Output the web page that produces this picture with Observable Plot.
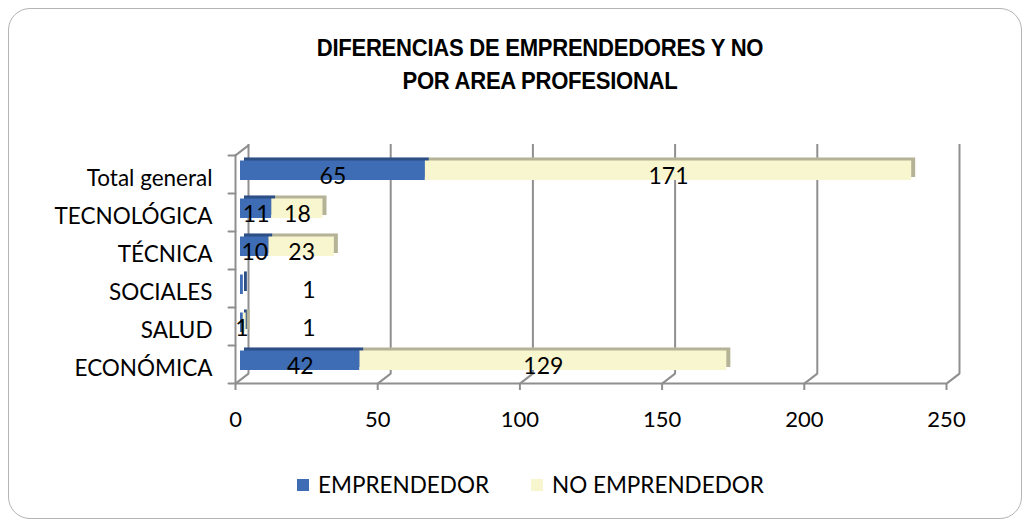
<!DOCTYPE html>
<html>
<head>
<meta charset="utf-8">
<script src="https://cdn.jsdelivr.net/npm/d3@7"></script>
<script src="https://cdn.jsdelivr.net/npm/@observablehq/plot@0.6"></script>
<style>
  html, body { margin: 0; padding: 0; background: #fff; }
  #wrap { position: relative; width: 1029px; height: 525px; overflow: hidden; font-family: Lato, "Open Sans", sans-serif; }
  #frame { position: absolute; left: 8px; top: 8px; width: 1014px; height: 511px; border: 1.5px solid #b4b4b4; border-radius: 22px; box-sizing: border-box; }
  #chart { position: absolute; left: 0; top: 0; }
  #title { position: absolute; left: 0; width: 1080px; top: 31px; text-align: center; font-family: "Liberation Sans Narrow", "Liberation Sans", sans-serif; font-weight: bold; font-size: 24px; line-height: 33px; color: #000; transform: scaleX(0.92); transform-origin: 540px 0; letter-spacing: -0.3px; }
  #legend { position: absolute; top: 471px; left: 297px; font-size: 22.5px; color: #000; display: flex; align-items: center; }
  .sw { display: inline-block; width: 12px; height: 12px; margin-right: 9px; }
</style>
</head>
<body>
<div id="wrap">
  <div id="frame"></div>
  <div id="chart"></div>
  <div id="title">DIFERENCIAS DE EMPRENDEDORES Y NO<br>POR AREA PROFESIONAL</div>
  <div id="legend"></div>
</div>
<script>
// ---- data ----
const categories = ["Total general", "TECNOLÓGICA", "TÉCNICA", "SOCIALES", "SALUD", "ECONÓMICA"];
const emprendedor = [65, 11, 10, 1, 1, 42];
const noEmprendedor = [171, 18, 23, 0, 1, 129];
const series = ["EMPRENDEDOR", "NO EMPRENDEDOR"];
const seriesColors = ["#3e6db5", "#f8f6cf"];
const xTicks = [0, 50, 100, 150, 200, 250];
// labels Excel moved away from tiny segments
const movedLabels = [["SOCIALES", "EMPRENDEDOR"], ["SALUD", "NO EMPRENDEDOR"]];

const rows = [];
categories.forEach((c, i) => {
  rows.push({cat: c, serie: series[0], value: emprendedor[i]});
  rows.push({cat: c, serie: series[1], value: noEmprendedor[i]});
});
const isMoved = d => movedLabels.some(([c, s]) => c === d.cat && s === d.serie);

const W = 1029, H = 525, mT = 154, mB = 142, mL = 235, mR = 83;
const bw = (H - mT - mB) / categories.length;
const gray = "#8f8f8f";
const line = {draw(ctx, l) { ctx.moveTo(0, 0); ctx.lineTo(0, -l); }};
const depth = Math.hypot(13, 10), depthAngle = Math.atan2(13, 10) * 180 / Math.PI;

const barOpts = {x: "value", y: "cat", insetTop: 9.5, insetBottom: 9};

const chart = Plot.plot({
  width: W, height: H,
  marginTop: mT, marginBottom: mB, marginLeft: mL, marginRight: mR,
  x: {domain: [0, 250], ticks: xTicks},
  y: {domain: categories, padding: 0},
  color: {domain: series, range: seriesColors},
  style: {fontFamily: "Lato, 'Open Sans', sans-serif", color: "#000", background: "transparent"},
  marks: [
    // back wall gridlines
    Plot.ruleX(xTicks, {dx: 13, dy: -10, stroke: gray, strokeWidth: 2}),
    // floor diagonals
    Plot.vector(xTicks, {x: d => d, y: () => categories[categories.length - 1], dy: bw / 2, length: depth, rotate: depthAngle, anchor: "start", shape: line, stroke: gray, strokeWidth: 2}),
    // top-left diagonal
    Plot.vector([0], {x: d => d, y: () => categories[0], dy: -bw / 2, length: depth, rotate: depthAngle, anchor: "start", shape: line, stroke: gray, strokeWidth: 2}),
    // front left wall and floor
    Plot.ruleX([0], {stroke: gray, strokeWidth: 2}),
    Plot.ruleY([categories[categories.length - 1]], {dy: bw / 2, x1: 0, x2: 250, stroke: gray, strokeWidth: 2}),
    // left boundary ticks
    Plot.vector(categories, {x: () => 0, y: d => d, dy: -bw / 2, length: 7, rotate: -90, anchor: "start", shape: line, stroke: gray, strokeWidth: 2}),
    Plot.vector([categories[categories.length - 1]], {x: () => 0, y: d => d, dy: bw / 2, length: 7, rotate: -90, anchor: "start", shape: line, stroke: gray, strokeWidth: 2}),
    // 3D depth faces
    Plot.barX(rows, Plot.stackX({...barOpts, fill: "serie", dx: 9, dy: -7})),
    Plot.barX(rows, Plot.stackX({...barOpts, fill: "#000", fillOpacity: 0.27, dx: 9, dy: -7})),
    // front faces
    Plot.barX(rows, Plot.stackX({...barOpts, fill: "serie", dx: 5, dy: -4})),
    // value labels
    Plot.text(rows, Plot.stackX({x: "value", y: "cat", text: d => d.value > 0 ? String(d.value) : "", filter: d => !isMoved(d), dx: 5, dy: 2, fontSize: 23, fill: "#000"})),
    Plot.text(rows, Plot.stackX({x: "value", y: "cat", text: d => d.value > 0 ? String(d.value) : "", filter: d => isMoved(d), dx: 72, dy: 2, fontSize: 23, fill: "#000"})),
    // axes
    Plot.axisX({ticks: xTicks, tickSize: 7, tickPadding: 21, fontSize: 22, stroke: gray, strokeWidth: 2, label: null}),
    Plot.axisY({tickSize: 0, tickPadding: 23, fontSize: 22.5, dy: 4, label: null})
  ]
});
document.getElementById("chart").appendChild(chart);

const legend = document.getElementById("legend");
series.forEach((s, i) => {
  const item = document.createElement("span");
  item.style.display = "inline-flex";
  item.style.alignItems = "center";
  item.style.marginRight = i === 0 ? "42px" : "0";
  const sw = document.createElement("span");
  sw.className = "sw";
  sw.style.background = seriesColors[i];
  item.appendChild(sw);
  item.appendChild(document.createTextNode(s));
  legend.appendChild(item);
});
</script>
</body>
</html>
